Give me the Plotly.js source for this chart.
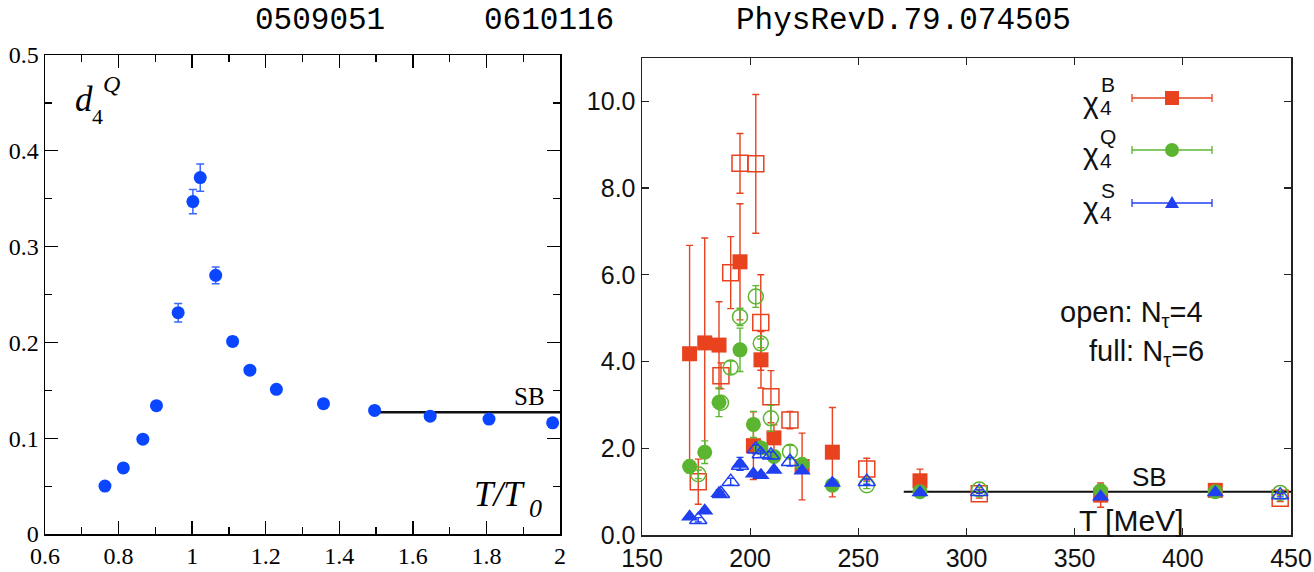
<!DOCTYPE html>
<html>
<head>
<meta charset="utf-8">
<script src="https://cdn.plot.ly/plotly-3.0.1.min.js"></script>
<style>html,body{margin:0;padding:0;background:#fff;}#chart{width:1314px;height:572px;}</style>
</head>
<body>
<div id="chart"></div>
<script>
// ---- Left panel: d4^Q vs T/T0 ----
const leftT = [0.763, 0.813, 0.866, 0.903, 0.962, 1.002, 1.022, 1.064, 1.110, 1.157, 1.229, 1.357, 1.496, 1.647, 1.807, 1.980];
const leftD4Q = [0.050, 0.069, 0.099, 0.134, 0.231, 0.347, 0.372, 0.270, 0.201, 0.171, 0.151, 0.136, 0.129, 0.123, 0.120, 0.116];
const leftErr = [0.001, 0.001, 0.002, 0.003, 0.0096, 0.0127, 0.0143, 0.0087, 0.005, 0.002, 0.002, 0.002, 0.002, 0.002, 0.002, 0.002];
const leftSB_T = [1.5, 2.0];
const leftSB_val = [0.127, 0.127];

// ---- Right panel: chi4 vs T [MeV] ----
// open symbols: N_tau = 4
const T4 = [176, 186.5, 191, 195.3, 202.6, 204.9, 209.6, 218.4, 253.9, 305.9, 445];
const B4 = [1.23, 3.67, 6.05, 8.57, 8.56, 4.90, 3.19, 2.65, 1.52, 0.95, 0.85];
const B4err = [0.52, 0.30, 0.83, 0.69, 1.60, 1.10, 0.60, 0.20, 0.25, 0.10, 0.08];
const Q4 = [1.40, 3.05, 3.86, 5.03, 5.50, 4.42, 2.69, 1.92, 1.15, 1.05, 0.97];
const Q4err = [0.10, 0.10, 0.15, 0.20, 0.25, 0.10, 0.30, 0.15, 0.08, 0.05, 0.05];
const S4 = [0.35, 0.95, 1.23, 1.60, 1.98, 1.87, 1.84, 1.69, 1.23, 1.00, 0.92];
const S4err = [0.05, 0.05, 0.08, 0.10, 0.10, 0.08, 0.08, 0.10, 0.06, 0.04, 0.04];
// full symbols: N_tau = 6
const T6 = [172, 179, 185.6, 195.3, 201.5, 205, 211, 224, 238, 278.5, 362, 415];
const B6 = [4.18, 4.43, 4.38, 6.30, 2.06, 4.04, 2.24, 1.58, 1.91, 1.25, 0.92, 1.03];
const B6err = [2.50, 2.42, 1.00, 1.34, 0.78, 0.65, 0.30, 0.77, 1.03, 0.27, 0.28, 0.08];
const Q6 = [1.58, 1.91, 3.06, 4.27, 2.55, 2.01, 1.81, 1.63, 1.15, 1.00, 1.02, 1.00];
const Q6err = [0.15, 0.26, 0.33, 0.50, 0.30, 0.10, 0.10, 0.10, 0.12, 0.05, 0.05, 0.05];
const S6 = [0.42, 0.56, 0.96, 1.64, 1.41, 1.38, 1.50, 1.48, 1.20, 0.98, 0.88, 0.98];
const S6err = [0.05, 0.05, 0.08, 0.15, 0.05, 0.05, 0.05, 0.05, 0.05, 0.03, 0.03, 0.03];
const rightSB_T = [271, 450];
const rightSB_val = [1.0, 1.0];

const paperLabels = ['0509051', '0610116', 'PhysRevD.79.074505'];
const legendNames = ['B', 'Q', 'S'];

const W = 1314, H = 572;
const PX = x => x / W;
const PY = y => 1 - y / H;

const RED = '#e8421f', GREEN = '#5cb530', BLUE = '#1f3ff0', LBLUE = '#0a46ff';
const SERIF = 'Liberation Serif, Times New Roman, serif';
const SANS = 'Liberation Sans, Arial, Helvetica, sans-serif';
const MONO = 'Liberation Mono, Courier New, monospace';

function errTrace(x, y, e, color, symbol, size, open, xa, ya) {
  return {
    x: x, y: y, type: 'scatter', mode: 'markers', xaxis: xa, yaxis: ya, showlegend: false,
    marker: {symbol: symbol, size: size, color: color,
             line: {color: color, width: open ? 1.5 : 0}},
    error_y: {type: 'data', array: e, visible: true, color: color, thickness: 1.4, width: 3.5},
    hoverinfo: 'skip'
  };
}

const traces = [
  {x: leftSB_T, y: leftSB_val, type: 'scatter', mode: 'lines', xaxis: 'x', yaxis: 'y',
   line: {color: '#111', width: 2.5}, showlegend: false, hoverinfo: 'skip'},
  {x: leftT, y: leftD4Q, type: 'scatter', mode: 'markers', xaxis: 'x', yaxis: 'y', showlegend: false,
   marker: {symbol: 'circle', size: 13, color: LBLUE},
   error_y: {type: 'data', array: leftErr, visible: true, color: '#3a68ff', thickness: 1.5, width: 4},
   hoverinfo: 'skip'},
  {x: rightSB_T, y: rightSB_val, type: 'scatter', mode: 'lines', xaxis: 'x2', yaxis: 'y2',
   line: {color: '#111', width: 2}, showlegend: false, hoverinfo: 'skip'},
  errTrace(T4, B4, B4err, RED, 'square-open', 16, true, 'x2', 'y2'),
  errTrace(T6, B6, B6err, RED, 'square', 15, false, 'x2', 'y2'),
  errTrace(T4, Q4, Q4err, GREEN, 'circle-open', 15, true, 'x2', 'y2'),
  errTrace(T6, Q6, Q6err, GREEN, 'circle', 15, false, 'x2', 'y2'),
  errTrace(T4, S4, S4err, BLUE, 'triangle-up-open', 15, true, 'x2', 'y2'),
  errTrace(T6, S6, S6err, BLUE, 'triangle-up', 15, false, 'x2', 'y2')
];

const leftAxisCommon = {
  showline: true, linecolor: '#000', linewidth: 1.5, mirror: 'ticks',
  ticks: 'inside', ticklen: 13, tickwidth: 1.3, tickcolor: '#000',
  showgrid: false, zeroline: false,
  tickfont: {family: SERIF, size: 24, color: '#000'}
};
const rightAxisCommon = {
  showline: true, linecolor: '#222', linewidth: 1.5, mirror: 'ticks',
  ticks: 'inside', ticklen: 7, tickwidth: 1.3, tickcolor: '#222',
  showgrid: false, zeroline: false,
  tickfont: {family: SANS, size: 25, color: '#111'}
};

const annotations = [];
const ann = (text, x, y, font, xanchor, yanchor) => annotations.push({
  text: text, x: PX(x), y: PY(y), xref: 'paper', yref: 'paper', showarrow: false,
  xanchor: xanchor || 'center', yanchor: yanchor || 'middle', font: font
});

// top labels
const topX = [320, 549, 903];
paperLabels.forEach((t, i) => ann(t, topX[i], 20, {family: MONO, size: 31, color: '#000'}));

// left panel labels
ann('<i>d</i>', 84, 99, {family: SERIF, size: 35, color: '#000'});
ann('4', 97, 116, {family: SERIF, size: 22, color: '#000'});
ann('<i>Q</i>', 111, 84, {family: SERIF, size: 24, color: '#000'});
ann('<i>T/T</i>', 499, 494, {family: SERIF, size: 35, color: '#000'});
ann('<i>0</i>', 535, 508, {family: SERIF, size: 26, color: '#000'});
ann('SB', 529, 396, {family: SERIF, size: 25, color: '#000'});

// right panel labels
ann('open: N<sub>τ</sub>=4', 1131, 314, {family: SANS, size: 29, color: '#111'});
ann('full: N<sub>τ</sub>=6', 1146, 353, {family: SANS, size: 29, color: '#111'});
ann('SB', 1149, 477, {family: SANS, size: 26, color: '#111'});
ann('T [MeV]', 1131, 520, {family: SANS, size: 30, color: '#111'});

// legend text
const rowY = [98, 150, 203];
const rowCol = [RED, GREEN, BLUE];
legendNames.forEach((n, i) => {
  ann('χ', 1091, rowY[i] + 4, {family: SANS, size: 30, color: '#111'});
  ann('4', 1106, rowY[i] + 10, {family: SANS, size: 21, color: '#111'});
  ann(n, 1108, rowY[i] - 13, {family: SANS, size: 21, color: '#111'});
});

// legend symbols (decoration)
const shapes = [];
legendNames.forEach((n, i) => {
  const y = rowY[i], c = rowCol[i];
  shapes.push({type: 'line', xref: 'paper', yref: 'paper', x0: PX(1132), x1: PX(1212), y0: PY(y), y1: PY(y), line: {color: c, width: 1.3}});
  shapes.push({type: 'line', xref: 'paper', yref: 'paper', x0: PX(1132), x1: PX(1132), y0: PY(y - 4), y1: PY(y + 4), line: {color: c, width: 1.3}});
  shapes.push({type: 'line', xref: 'paper', yref: 'paper', x0: PX(1212), x1: PX(1212), y0: PY(y - 4), y1: PY(y + 4), line: {color: c, width: 1.3}});
  if (i === 0) {
    shapes.push({type: 'rect', xref: 'paper', yref: 'paper', x0: PX(1165), x1: PX(1179), y0: PY(y - 7), y1: PY(y + 7), fillcolor: c, line: {width: 0}});
  } else if (i === 1) {
    shapes.push({type: 'circle', xref: 'paper', yref: 'paper', x0: PX(1165), x1: PX(1179), y0: PY(y - 7), y1: PY(y + 7), fillcolor: c, line: {width: 0}});
  } else {
    shapes.push({type: 'path', xref: 'paper', yref: 'paper',
      path: 'M ' + PX(1165) + ' ' + PY(y + 5) + ' L ' + PX(1179) + ' ' + PY(y + 5) + ' L ' + PX(1172) + ' ' + PY(y - 7) + ' Z',
      fillcolor: c, line: {width: 0}});
  }
});

const layout = {
  width: W, height: H,
  margin: {l: 0, r: 0, t: 0, b: 0},
  paper_bgcolor: '#fff', plot_bgcolor: '#fff',
  showlegend: false,
  xaxis: Object.assign({}, leftAxisCommon, {
    domain: [PX(45), PX(560)], range: [0.6, 2.0], anchor: 'y',
    tick0: 0, dtick: 0.2,
    minor: {dtick: 0.1, ticks: 'inside', ticklen: 7, tickcolor: '#000', tickwidth: 1.2}
  }),
  yaxis: Object.assign({}, leftAxisCommon, {
    domain: [PY(534), PY(55)], range: [0, 0.5], anchor: 'x',
    tick0: 0, dtick: 0.1,
    minor: {dtick: 0.05, ticks: 'inside', ticklen: 7, tickcolor: '#000', tickwidth: 1.2}
  }),
  xaxis2: Object.assign({}, rightAxisCommon, {
    domain: [PX(642), PX(1291)], range: [150, 450], anchor: 'y2',
    tick0: 150, dtick: 50
  }),
  yaxis2: Object.assign({}, rightAxisCommon, {
    domain: [PY(535), PY(58)], range: [0, 11], anchor: 'x2',
    tickvals: [0, 2, 4, 6, 8, 10], tickformat: '.1f'
  }),
  annotations: annotations,
  shapes: shapes
};

Plotly.newPlot('chart', traces, layout, {staticPlot: true, displayModeBar: false});
</script>
</body>
</html>
